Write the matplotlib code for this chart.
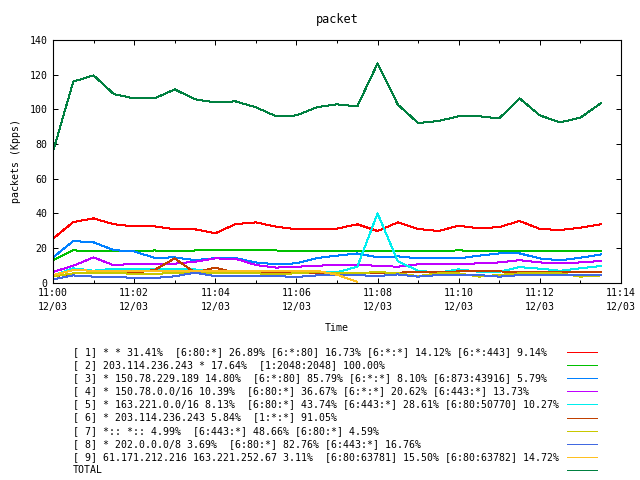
''' packet chart - Kpps per flow group '''

import pandas as pd
import numpy as np
import matplotlib
matplotlib.use('Agg')
import matplotlib.pyplot as plt
import matplotlib.dates as mdates
from matplotlib.lines import Line2D
from matplotlib.ticker import MultipleLocator

plt.rcParams['font.family'] = 'DejaVu Sans Mono'
plt.rcParams['font.size'] = 7.15

### data (Kpps, one point every 30 s from 11:00)
times = pd.date_range('2008-12-03 11:00', periods=28, freq='30s')

s1 = [25.4, 35.0, 37.1, 33.7, 32.5, 32.5, 30.8, 30.8, 28.5, 33.8, 34.8, 32.3, 30.8, 30.8,
      31.2, 33.7, 29.8, 34.8, 31.0, 29.8, 32.9, 31.3, 32.1, 35.6, 31.0, 30.4, 31.7, 33.7]
s2 = [13.0, 18.7, 18.0, 18.0, 18.0, 18.6, 18.0, 18.6, 18.6, 18.6, 18.6, 18.6, 18.0, 18.0,
      18.0, 18.0, 18.0, 18.0, 18.0, 18.0, 18.7, 18.0, 18.0, 18.0, 18.0, 18.0, 18.0, 18.0]
s3 = [14.6, 24.0, 23.3, 18.8, 18.0, 14.4, 14.6, 13.0, 14.2, 14.2, 11.7, 10.6, 11.2, 14.2,
      15.6, 16.9, 14.6, 15.2, 14.0, 14.0, 14.0, 15.6, 16.9, 16.9, 14.0, 12.9, 14.4, 16.3]
s4 = [6.2, 9.8, 14.6, 10.0, 11.0, 11.0, 11.0, 12.1, 14.0, 13.8, 10.2, 8.7, 9.2, 9.8,
      10.2, 10.2, 9.8, 9.2, 10.6, 10.6, 10.6, 11.2, 11.7, 13.0, 11.7, 11.2, 11.7, 12.5]
s5 = [4.2, 8.3, 6.9, 8.1, 7.7, 8.1, 7.9, 7.7, 5.8, 5.8, 6.2, 5.8, 5.8, 5.8,
      6.0, 9.2, 40.0, 12.3, 6.9, 5.8, 7.7, 6.3, 6.3, 9.0, 8.1, 6.9, 8.3, 9.6]
s6 = [3.5, 5.4, 5.4, 5.8, 5.8, 7.3, 14.0, 5.8, 8.7, 5.8, 5.8, 5.8, 5.8, 5.8,
      5.8, 5.8, 5.8, 5.8, 6.2, 6.2, 6.5, 6.5, 6.5, 6.2, 6.2, 6.2, 6.2, 6.3]
s7 = [3.7, 5.4, 5.8, 5.8, 5.0, 5.0, 5.8, 5.8, 5.8, 5.4, 5.4, 5.0, 5.4, 6.2,
      5.4, 5.4, 6.2, 5.4, 3.8, 5.4, 5.4, 3.5, 4.5, 5.4, 5.4, 5.4, 3.5, 4.2]
s8 = [1.9, 4.2, 3.5, 3.5, 2.7, 2.7, 3.7, 5.8, 3.8, 3.8, 3.8, 3.8, 3.3, 4.2,
      4.4, 4.4, 3.8, 4.8, 3.5, 4.4, 4.4, 4.4, 3.5, 4.4, 4.4, 4.4, 4.4, 4.4]
s9 = [4.4, 7.3, 6.9, 6.9, 6.9, 6.9, 6.9, 6.5, 6.5, 6.5, 6.5, 6.5, 6.9, 6.9, 4.6, 0.5]
total = [75.6, 116.0, 119.6, 108.8, 106.3, 106.3, 111.5, 105.8, 104.0, 104.6, 101.2, 96.0, 96.5, 101.2,
         102.9, 101.7, 126.5, 102.7, 92.1, 93.3, 96.0, 96.0, 94.8, 106.3, 96.5, 92.5, 95.2, 103.5]

labels = [
    '[ 1] * * 31.41%  [6:80:*] 26.89% [6:*:80] 16.73% [6:*:*] 14.12% [6:*:443] 9.14%',
    '[ 2] 203.114.236.243 * 17.64%  [1:2048:2048] 100.00%',
    '[ 3] * 150.78.229.189 14.80%  [6:*:80] 85.79% [6:*:*] 8.10% [6:873:43916] 5.79%',
    '[ 4] * 150.78.0.0/16 10.39%  [6:80:*] 36.67% [6:*:*] 20.62% [6:443:*] 13.73%',
    '[ 5] * 163.221.0.0/16 8.13%  [6:80:*] 43.74% [6:443:*] 28.61% [6:80:50770] 10.27%',
    '[ 6] * 203.114.236.243 5.84%  [1:*:*] 91.05%',
    '[ 7] *:: *:: 4.99%  [6:443:*] 48.66% [6:80:*] 4.59%',
    '[ 8] * 202.0.0.0/8 3.69%  [6:80:*] 82.76% [6:443:*] 16.76%',
    '[ 9] 61.171.212.216 163.221.252.67 3.11%  [6:80:63781] 15.50% [6:80:63782] 14.72%',
    'TOTAL',
]
series = [s1, s2, s3, s4, s5, s6, s7, s8, s9, total]
colors = ['#ff0000', '#00c000', '#0080ff', '#c000ff', '#00eeee',
          '#c04000', '#c8c800', '#4169e1', '#ffc020', '#008040']

fig = plt.figure(figsize=(6.4, 4.8), dpi=100)
ax = fig.add_axes([53 / 640, 1 - 282.7 / 480, 568 / 640, 242.7 / 480])

for vals, c in zip(series, colors):
    ax.plot(times[:len(vals)], vals, color=c, lw=0.72, antialiased=False)

ax.set_xlim(pd.Timestamp('2008-12-03 11:00'), pd.Timestamp('2008-12-03 11:14'))
ax.set_ylim(0, 140)
ax.yaxis.set_major_locator(MultipleLocator(20))
ax.xaxis.set_major_locator(mdates.MinuteLocator(byminute=range(0, 60, 2)))
ax.xaxis.set_minor_locator(mdates.MinuteLocator())
ax.xaxis.set_major_formatter(mdates.DateFormatter('%H:%M\n%m/%d'))
ax.tick_params(which='both', direction='in', top=True, right=True, width=0.72, pad=4)
ax.tick_params(which='major', length=3.3)
ax.tick_params(which='minor', length=2.2)
for sp in ax.spines.values():
    sp.set_linewidth(0.8)
for t in ax.get_xticklabels():
    t.set_linespacing(1.5)

ax.set_title('packet', pad=12)
ax.set_ylabel('packets (Kpps)', labelpad=6)
ax.set_xlabel('Time', labelpad=8)

### legend below the plot: text left, sample line right
for i, (lab, c) in enumerate(zip(labels, colors)):
    y = 1 - (352 + i * 13.1) / 480
    fig.text(73 / 640, y, lab, ha='left', va='center')
    fig.add_artist(Line2D([567 / 640, 597 / 640], [y, y], color=c, lw=0.72,
                          antialiased=False, transform=fig.transFigure))

fig.savefig('out.png', dpi=100)
